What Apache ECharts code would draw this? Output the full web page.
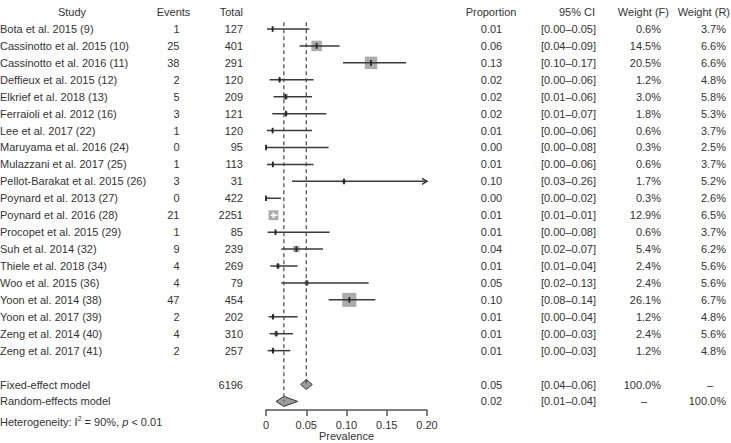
<!DOCTYPE html>
<html lang="en">
<head>
<meta charset="UTF-8">
<title>Forest plot - prevalence</title>
<script src="https://cdn.jsdelivr.net/npm/echarts@6/dist/echarts.min.js"></script>
<style>
  html, body { margin: 0; padding: 0; background: #fff; }
  #chart { width: 731px; height: 443px; }
</style>
</head>
<body>
<div id="chart"></div>
<script>
// studies
const studies = ['Bota et al. 2015 (9)', 'Cassinotto et al. 2015 (10)', 'Cassinotto et al. 2016 (11)',
  'Deffieux et al. 2015 (12)', 'Elkrief et al. 2018 (13)', 'Ferraioli et al. 2012 (16)', 'Lee et al. 2017 (22)',
  'Maruyama et al. 2016 (24)', 'Mulazzani et al. 2017 (25)', 'Pellot-Barakat et al. 2015 (26)',
  'Poynard et al. 2013 (27)', 'Poynard et al. 2016 (28)', 'Procopet et al. 2015 (29)', 'Suh et al. 2014 (32)',
  'Thiele et al. 2018 (34)', 'Woo et al. 2015 (36)', 'Yoon et al. 2014 (38)', 'Yoon et al. 2017 (39)',
  'Zeng et al. 2014 (40)', 'Zeng et al. 2017 (41)'];
const events = [1, 25, 38, 2, 5, 3, 1, 0, 1, 3, 0, 21, 1, 9, 4, 4, 47, 2, 4, 2];
const totals = [127, 401, 291, 120, 209, 121, 120, 95, 113, 31, 422, 2251, 85, 239, 269, 79, 454, 202, 310, 257];
const est    = [0.0082, 0.0629, 0.1304, 0.0169, 0.0244, 0.0248, 0.0082, 0, 0.0085, 0.0969, 0, 0.0093, 0.0118, 0.0377, 0.0149, 0.0506, 0.1035, 0.0087, 0.0128, 0.0087];
const ciLow  = [0.0012, 0.0417, 0.0957, 0.0045, 0.0094, 0.0078, 0.0012, 0, 0.0012, 0.0323, 0, 0.0058, 0.0020, 0.0190, 0.0053, 0.0190, 0.0778, 0.0032, 0.0045, 0.0020];
const ciHigh = [0.0540, 0.0914, 0.1740, 0.0590, 0.0571, 0.0749, 0.0571, 0.0778, 0.0590, 0.2600, 0.0186, 0.0142, 0.0790, 0.0708, 0.0393, 0.1275, 0.1358, 0.0393, 0.0335, 0.0302];
const weightF = [0.6, 14.5, 20.5, 1.2, 3.0, 1.8, 0.6, 0.3, 0.6, 1.7, 0.3, 12.9, 0.6, 5.4, 2.4, 2.4, 26.1, 1.2, 2.4, 1.2];
const weightR = [3.7, 6.6, 6.6, 4.8, 5.8, 5.3, 3.7, 2.5, 3.7, 5.2, 2.6, 6.5, 3.7, 6.2, 5.6, 5.6, 6.7, 4.8, 5.6, 4.8];

// pooled models
const modelNames = ['Fixed-effect model', 'Random-effects model'];
const modelEst = [0.0500, 0.0222];
const modelLow = [0.0431, 0.0124];
const modelHigh = [0.0575, 0.0394];
const modelWeightF = [100.0, null];
const modelWeightR = [null, 100.0];
const totalN = 6196;

const xTicks = [0, 0.05, 0.10, 0.15, 0.20];
const headers = ['Study', 'Events', 'Total', 'Proportion', '95% CI', 'Weight (F)', 'Weight (R)'];

const FONT = '"Liberation Sans", Arial, sans-serif';
const FS = 11;
const TXT = '#333';
const modelRow0 = studies.length + 1;

function fmt2(v) { return v.toFixed(2); }
function ciText(lo, hi) { return '[' + fmt2(lo) + '\u2013' + fmt2(hi) + ']'; }
function pct(v) { return v == null ? '\u2013' : v.toFixed(1) + '%'; }

function txt(x, y, s, align) {
  return {
    type: 'text', x: x, y: y,
    style: { text: s, fill: TXT, fontSize: FS, fontFamily: FONT, align: align || 'left', verticalAlign: 'middle' }
  };
}

// table rows: [row, kind, index]
const tableRows = [[-1, 'head', 0]];
studies.forEach((s, i) => tableRows.push([i, 'study', i]));
modelNames.forEach((s, i) => tableRows.push([modelRow0 + i, 'model', i]));
tableRows.push([modelRow0 + 2.2, 'het', 0]);

function renderTable(params, api) {
  const row = api.value(0);
  const kind = tableRows[params.dataIndex][1];
  const i = tableRows[params.dataIndex][2];
  const y = api.coord([0, row])[1];
  const kids = [];
  if (kind === 'head') {
    kids.push(txt(72, y, headers[0], 'center'));
    kids.push(txt(173.5, y, headers[1], 'center'));
    kids.push(txt(243, y, headers[2], 'right'));
    kids.push(txt(491, y, headers[3], 'center'));
    kids.push(txt(595, y, headers[4], 'right'));
    kids.push(txt(669, y, headers[5], 'right'));
    kids.push(txt(730, y, headers[6], 'right'));
  } else if (kind === 'study') {
    kids.push(txt(0, y, studies[i], 'left'));
    kids.push(txt(179.5, y, String(events[i]), 'right'));
    kids.push(txt(243, y, String(totals[i]), 'right'));
    kids.push(txt(491.5, y, fmt2(est[i]), 'center'));
    kids.push(txt(596, y, ciText(ciLow[i], ciHigh[i]), 'right'));
    kids.push(txt(661, y, pct(weightF[i]), 'right'));
    kids.push(txt(726, y, pct(weightR[i]), 'right'));
  } else if (kind === 'model') {
    kids.push(txt(0, y, modelNames[i], 'left'));
    if (i === 0) kids.push(txt(243, y, String(totalN), 'right'));
    kids.push(txt(491.5, y, fmt2(modelEst[i]), 'center'));
    kids.push(txt(596, y, ciText(modelLow[i], modelHigh[i]), 'right'));
    if (modelWeightF[i] == null) kids.push(txt(644, y, '\u2013', 'center'));
    else kids.push(txt(661, y, pct(modelWeightF[i]), 'right'));
    if (modelWeightR[i] == null) kids.push(txt(710, y, '\u2013', 'center'));
    else kids.push(txt(726, y, pct(modelWeightR[i]), 'right'));
  } else {
    kids.push({
      type: 'text', x: 0, y: y,
      style: {
        text: '{a|Heterogeneity: I}{s|2}{a| = 90%, }{i|p}{a| < 0.01}',
        verticalAlign: 'middle', align: 'left',
        rich: {
          a: { fontSize: FS, fontFamily: FONT, fill: TXT, color: TXT },
          s: { fontSize: 7, fontFamily: FONT, fill: TXT, color: TXT, verticalAlign: 'top', padding: [0, 0, 6, 0] },
          i: { fontSize: FS, fontFamily: FONT, fill: TXT, color: TXT, fontStyle: 'italic' }
        }
      }
    });
  }
  return { type: 'group', children: kids };
}

// study marks
const studyData = studies.map((s, i) => [i, est[i], ciLow[i], ciHigh[i], weightF[i]]);

function renderStudy(params, api) {
  const row = api.value(0);
  const p = api.coord([api.value(1), row]);
  const xMax = api.coord([xTicks[xTicks.length - 1], row])[0];
  const xMin = api.coord([0, row])[0];
  const x1 = Math.max(api.coord([api.value(2), row])[0], xMin);
  const x2Raw = api.coord([api.value(3), row])[0];
  const x2 = Math.min(x2Raw, xMax);
  const side = 2.75 * Math.sqrt(api.value(4));
  const inside = (x2 - x1) < side;
  const lineCol = inside ? '#fff' : '#3a3a3a';
  const kids = [];
  kids.push({
    type: 'rect',
    shape: { x: p[0] - side / 2, y: p[1] - side / 2, width: side, height: side },
    style: { fill: '#ababab' }
  });
  kids.push({
    type: 'line',
    shape: { x1: x1, y1: p[1], x2: x2, y2: p[1] },
    style: { stroke: lineCol, lineWidth: 1.5 }
  });
  if (x2Raw > xMax) {
    kids.push({
      type: 'polyline',
      shape: { points: [[x2 - 5, p[1] - 3], [x2, p[1]], [x2 - 5, p[1] + 3]] },
      style: { stroke: lineCol, lineWidth: 1.5, fill: null }
    });
  }
  kids.push({
    type: 'line',
    shape: { x1: p[0], y1: p[1] - 2.8, x2: p[0], y2: p[1] + 2.8 },
    style: { stroke: inside ? '#fff' : '#222', lineWidth: 1.8 }
  });
  return { type: 'group', children: kids };
}

// pooled diamonds
const modelData = modelNames.map((m, i) => [modelRow0 + i, modelEst[i], modelLow[i], modelHigh[i]]);

function renderDiamond(params, api) {
  const row = api.value(0);
  const c = api.coord([api.value(1), row]);
  const l = api.coord([api.value(2), row]);
  const r = api.coord([api.value(3), row]);
  return {
    type: 'polygon',
    shape: { points: [[l[0], c[1]], [c[0], c[1] - 5], [r[0], c[1]], [c[0], c[1] + 5]] },
    style: { fill: '#9c9c9c', stroke: '#333', lineWidth: 1 }
  };
}

const chart = echarts.init(document.getElementById('chart'), null, { renderer: 'svg' });

chart.setOption({
  animation: false,
  backgroundColor: '#fff',
  grid: { left: 266, right: 304, top: 3.6, bottom: 33.1, containLabel: false, outerBoundsMode: 'none' },
  xAxis: {
    type: 'value', min: 0, max: 0.2, interval: 0.05,
    axisLine: { show: true, onZero: false, lineStyle: { color: '#555', width: 1.5 } },
    axisTick: { show: true, length: 6, lineStyle: { color: '#555', width: 1.5 } },
    axisLabel: {
      margin: 10, color: TXT, fontSize: FS, fontFamily: FONT,
      formatter: v => (v === 0 ? '0' : v.toFixed(2))
    },
    splitLine: { show: false },
    name: 'Prevalence', nameLocation: 'middle', nameGap: 21, nameMoveOverlap: false,
    nameTextStyle: { color: TXT, fontSize: FS, fontFamily: FONT }
  },
  yAxis: {
    type: 'value', min: -1.5, max: 22.5, inverse: true, show: false,
    splitLine: { show: false }
  },
  series: [
    {
      type: 'line', symbol: 'none', silent: true,
      data: [[modelEst[0], -0.4], [modelEst[0], modelRow0]],
      lineStyle: { color: '#444', width: 1.2, type: [4, 3] }
    },
    {
      type: 'line', symbol: 'none', silent: true,
      data: [[modelEst[1], -0.4], [modelEst[1], modelRow0 + 1]],
      lineStyle: { color: '#444', width: 1.2, type: [4, 3] }
    },
    {
      type: 'custom', renderItem: renderStudy, data: studyData,
      encode: { x: [1, 2, 3], y: 0 }, clip: false
    },
    {
      type: 'custom', renderItem: renderDiamond, data: modelData,
      encode: { x: [1, 2, 3], y: 0 }, clip: false
    },
    {
      type: 'custom', renderItem: renderTable, data: tableRows.map(r => [r[0]]),
      encode: { y: 0 }, clip: false
    }
  ]
});
</script>
</body>
</html>
